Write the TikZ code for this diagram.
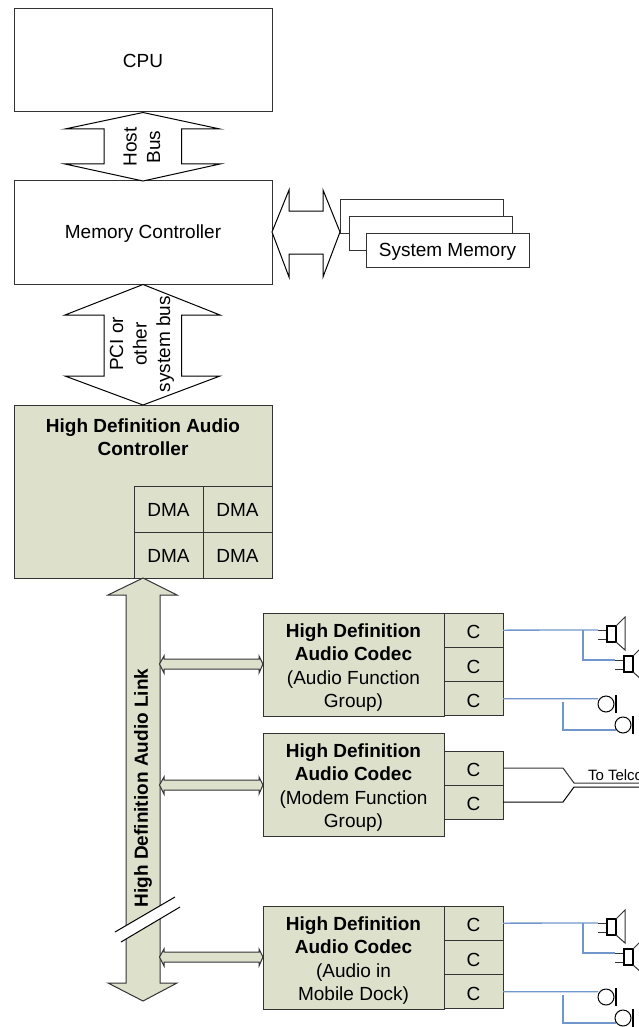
\documentclass[tikz,border=0pt]{standalone}
\usepackage{fontspec}
\setmainfont{Liberation Sans}
\definecolor{codecgreen}{HTML}{DDE1CC}
\definecolor{wireblue}{HTML}{7096CC}
\definecolor{edgegray}{HTML}{333333}
\begin{document}
\begin{tikzpicture}[x=1pt,y=-1pt,line width=1pt,every node/.style={font=\fontsize{19}{23.5}\selectfont,text=black,align=center,inner sep=0pt,outer sep=0pt}]
    \tikzset{
      whitebox/.style={draw=edgegray,fill=white,anchor=north west},
      greenbox/.style={draw=edgegray,fill=codecgreen,anchor=north west},
      dmacell/.style={greenbox,minimum width=69,minimum height=46,text height=15.6pt},
      codeccell/.style={greenbox,minimum width=59,minimum height=34.3,text height=17.6pt},
      codecbox/.style={greenbox,minimum width=181,minimum height=103,text depth=0pt,text height=86.5pt},
      bus/.style={draw=black,fill=white},
      linkbus/.style={draw=edgegray,fill=codecgreen},
      wire/.style={draw=wireblue,line width=1.3pt},
      pics/speaker/.style={code={
        \draw[edgegray] (0,0) -- (9,0) (0,9) -- (9,9);
        \draw[black,line width=1.3pt] (9,-4) rectangle (18,12);
        \draw[edgegray] (18,-4) -- (27,-13) -- (27,20) -- (18,12);
      }},
      pics/mike/.style={code={
        \draw[black] (0,0) circle [radius=8];
        \fill[black] (9,-9) rectangle (10.8,9);
      }}
    }
    \useasboundingbox (0,0) rectangle (639,1027);
    \clip (0,0) rectangle (639,1027);

    \node[whitebox,minimum width=258,minimum height=103] (cpu) at (14,9) {CPU};
    \node[whitebox,minimum width=258,minimum height=103.5,text depth=2pt] (memctrl) at (14,181) {Memory Controller};

    \draw[bus] (143,112.5) -- (220,129) -- (181.5,129) -- (181.5,164) -- (220,164) -- (143,181)
      -- (65,164) -- (104,164) -- (104,129) -- (65,129) -- cycle;
    \node[rotate=90] (hostbus) at (142,147) {Host\\Bus};

    \draw[bus] (143,284.5) -- (220,315) -- (181.5,315) -- (181.5,376) -- (220,376) -- (143,405)
      -- (65,376) -- (104,376) -- (104,315) -- (65,315) -- cycle;
    \node[rotate=90] (pcibus) at (142,344) {PCI or\\other\\system bus};

    \node[whitebox,minimum width=163,minimum height=34] (sysmem3) at (340,199) {};
    \node[whitebox,minimum width=163,minimum height=34] (sysmem2) at (349,216) {};
    \node[whitebox,minimum width=163,minimum height=34,text depth=0pt] (sysmem1) at (366,233) {System Memory};
    \draw[bus] (272,232) -- (289,190) -- (289,211) -- (323,211) -- (323,190) -- (340,232)
      -- (323,277) -- (323,254) -- (289,254) -- (289,277) -- cycle;

    \node[greenbox,minimum width=258,minimum height=173] (hda) at (14,405) {};
    \node (hdatitle) at (143,437) {\textbf{High Definition Audio}\\\textbf{Controller}};
    \node[dmacell] (dma1) at (134,486) {DMA};
    \node[dmacell] (dma2) at (203,486) {DMA};
    \node[dmacell] (dma3) at (134,532) {DMA};
    \node[dmacell] (dma4) at (203,532) {DMA};

    \draw[linkbus] (143,578) -- (177,595) -- (160,595) -- (160,983) -- (177,983) -- (143,1001)
      -- (108,983) -- (126,983) -- (126,595) -- (108,595) -- cycle;
    \node[rotate=90] (linklabel) at (143,788) {\textbf{High Definition Audio Link}};
    \fill[white] (115,932) -- (175,897) -- (180,907) -- (121,942) -- cycle;
    \draw[black] (115,932) -- (175,897) (121,942) -- (180,907);

    \foreach \y in {664,785,957}
      \draw[linkbus] (159.5,\y) -- (164,\y-8) -- (164,\y-5) -- (259,\y-5) -- (259,\y-8) -- (263,\y)
        -- (259,\y+9) -- (259,\y+5) -- (164,\y+5) -- (164,\y+9) -- cycle;

    \node[codecbox] (codec1) at (263,613) {\textbf{High Definition}\\\textbf{Audio Codec}\\(Audio Function\\Group)};
    \node[codecbox] (codec2) at (263,733) {\textbf{High Definition}\\\textbf{Audio Codec}\\(Modem Function\\Group)};
    \node[codecbox] (codec3) at (263,906) {\textbf{High Definition}\\\textbf{Audio Codec}\\(Audio in\\Mobile Dock)};

    \foreach \n/\y in {a/613,b/647.3,c/681.6,g/906,h/940.3,i/974.6}
      \node[codeccell] (cell\n) at (444,\y) {C};
    \foreach \n/\y in {d/751,e/785}
      \node[codeccell] (cell\n) at (444,\y) {C};

    \foreach \top/\mic/\off in {a/c/0,g/i/293} {
      \coordinate (spk1\top) at (598,630+\off);
      \coordinate (spk2\top) at (615,660+\off);
      \coordinate (fork\top) at (583,630+\off);
      \draw[wire] (cell\top.east) -- (spk1\top);
      \draw[wire] (fork\top) |- (spk2\top);
      \pic at (spk1\top) {speaker};
      \pic at (spk2\top) {speaker};
      \coordinate (mic1\top) at (598,698.7+\off);
      \coordinate (mic2\top) at (616,730+\off);
      \coordinate (micfork\top) at (563,702+\off);
      \draw[wire] (cell\mic.east) -- (mic1\top);
      \draw[wire] (micfork\top) |- (mic2\top);
      \pic at (606,704+\off) {mike};
      \pic at (623,725+\off) {mike};
    }

    \coordinate (telco1) at (639,783);
    \coordinate (telco2) at (639,787);
    \draw[edgegray] (celld.east) -- (563,768) -- (574,783) -- (telco1);
    \draw[black] (celle.east) -- (563,802) -- (574,787) -- (telco2);
    \node[anchor=base west,font=\fontsize{15}{18}\selectfont] (telcolabel) at (588,780) {To Telco};
\end{tikzpicture}
\end{document}
